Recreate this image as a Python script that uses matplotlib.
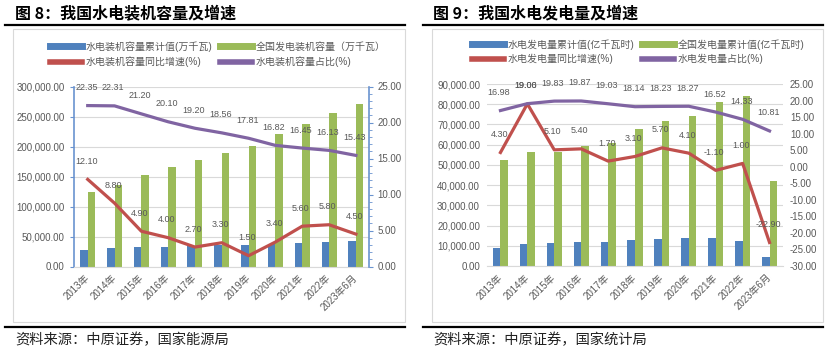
import numpy as np
import matplotlib
matplotlib.use('Agg')
import matplotlib.pyplot as plt
from matplotlib.lines import Line2D
from matplotlib.patches import Rectangle
from matplotlib.ticker import MultipleLocator, FuncFormatter

plt.rcParams['font.family'] = ['Liberation Sans', 'Noto Sans CJK SC']
plt.rcParams['axes.unicode_minus'] = False

# ---- data ----
years = ['2013年', '2014年', '2015年', '2016年', '2017年', '2018年',
         '2019年', '2020年', '2021年', '2022年', '2023年6月']

# 图8 装机容量
hydro_cap = [28044, 30486, 31954, 33207, 34411, 35226, 35640, 37016, 39092, 41350, 41797]
total_cap = [124738, 136019, 152527, 165051, 177708, 189967, 201006, 220058, 237692, 256405, 271000]
hydro_cap_yoy = [12.10, 8.80, 4.90, 4.00, 2.70, 3.30, 1.50, 3.40, 5.60, 5.80, 4.50]
hydro_cap_share = [22.35, 22.31, 21.20, 20.10, 19.20, 18.56, 17.81, 16.82, 16.45, 16.13, 15.43]

# 图9 发电量
hydro_gen = [8800, 10700, 11400, 12100, 12100, 12800, 13500, 13800, 13800, 12400, 4500]
total_gen = [52500, 56500, 56300, 59300, 60900, 67800, 71600, 74400, 81000, 84000, 42000]
hydro_gen_yoy = [4.30, 19.00, 5.10, 5.40, 1.70, 3.10, 5.70, 4.10, -1.10, 1.00, -22.90]
hydro_gen_share = [16.98, 19.06, 19.83, 19.87, 19.03, 18.14, 18.23, 18.27, 16.52, 14.33, 10.81]

BLUE = '#4F81BD'
GREEN = '#9BBB59'
RED = '#C0504D'
PURPLE = '#8064A2'
GRAY = '#595959'
GRID = '#D9D9D9'
AXBLUE = '#6A93CF'

W, H = 832, 353
fig = plt.figure(figsize=(W / 100, H / 100), dpi=100)


def fx(x):
    return x / W


def fy(y):
    return 1 - y / H


def frame(x0, x1, title, source, box_x0):
    fig.text(fx(x0 + 10), fy(13), title, fontsize=11.5, fontweight='bold',
             family=['Noto Sans CJK SC'], va='center', ha='left', color='black')
    fig.add_artist(Line2D([fx(x0), fx(x1)], [fy(25), fy(25)], color='black',
                          lw=1.6, transform=fig.transFigure))
    fig.add_artist(Rectangle((fx(box_x0), fy(322)), fx(x1) - fx(box_x0), fy(29) - fy(322),
                             transform=fig.transFigure, fill=False, ec=GRID, lw=0.8))
    fig.add_artist(Line2D([fx(x0), fx(x1)], [fy(327), fy(327)], color='black',
                          lw=1.6, transform=fig.transFigure))
    fig.text(fx(x0 + 10), fy(340), source, fontsize=10.3, family=['Noto Sans CJK SC'],
             va='center', ha='left', color='#222222')


def legend(labels, x, y):
    handles = [Line2D([], [], color=BLUE, lw=5), Line2D([], [], color=RED, lw=4),
               Line2D([], [], color=GREEN, lw=5), Line2D([], [], color=PURPLE, lw=4)]
    order = [labels[0], labels[2], labels[1], labels[3]]
    fig.legend(handles, order, ncol=2, loc='upper left', bbox_to_anchor=(fx(x), fy(y)),
               frameon=False, fontsize=7.2, handlelength=3.2, handletextpad=0.35,
               columnspacing=0.8, labelspacing=0.45, borderpad=0, borderaxespad=0,
               labelcolor=GRAY)


def labels(ax, x, vals):
    for xi, v in zip(x, vals):
        ax.annotate('%.2f' % v, (xi, v), xytext=(-1, 13), textcoords='offset points',
                    ha='center', va='center', fontsize=6.5, color=GRAY)


def draw(ax, blue, green, yoy, share, lmax, lstep, rmin, rmax, spines):
    x = np.arange(len(years))
    w = 0.28
    ax.set_axisbelow(True)
    ax.yaxis.grid(True, color=GRID, lw=0.8)
    ax.bar(x - w / 2, blue, w, color=BLUE)
    ax.bar(x + w / 2, green, w, color=GREEN)
    ax.set_xlim(-0.5, len(years) - 0.5)
    ax.set_ylim(0, lmax)
    ax.yaxis.set_major_locator(MultipleLocator(lstep))
    ax.yaxis.set_major_formatter(FuncFormatter(lambda v, p: '{:,.2f}'.format(v)))
    ax.set_xticks(x)
    ax.set_xticklabels(years, rotation=45, ha='right', va='center',
                       rotation_mode='anchor', fontsize=7, color=GRAY)
    ax.tick_params(axis='x', length=0, pad=7)
    ax.tick_params(axis='y', labelsize=7, labelcolor=GRAY)

    axr = ax.twinx()
    axr.plot(x, yoy, color=RED, lw=2.3, solid_joinstyle='round')
    axr.plot(x, share, color=PURPLE, lw=2.3, solid_joinstyle='round')
    labels(axr, x, yoy)
    labels(axr, x, share)
    axr.set_ylim(rmin, rmax)
    axr.yaxis.set_major_locator(MultipleLocator(5))
    axr.yaxis.set_major_formatter(FuncFormatter(lambda v, p: '%.2f' % v))
    axr.tick_params(axis='y', labelsize=7, labelcolor=GRAY)

    for a in (ax, axr):
        a.spines['top'].set_visible(False)
    ax.spines['right'].set_visible(False)
    axr.spines['left'].set_visible(False)
    axr.spines['bottom'].set_visible(False)
    ax.spines['bottom'].set_color(GRID)

    if spines:
        ax.spines['left'].set_color(AXBLUE)
        ax.spines['left'].set_linewidth(1.2)
        axr.spines['right'].set_color(AXBLUE)
        axr.spines['right'].set_linewidth(1.2)
        ax.tick_params(axis='y', length=3, color=AXBLUE, pad=4)
        axr.yaxis.set_minor_locator(MultipleLocator(1))
        axr.tick_params(axis='y', which='major', length=3, color=AXBLUE, pad=3)
        axr.tick_params(axis='y', which='minor', length=2, color=AXBLUE)
    else:
        ax.spines['left'].set_visible(False)
        axr.spines['right'].set_visible(False)
        ax.tick_params(axis='y', length=0, pad=5)
        axr.tick_params(axis='y', length=0, pad=5)
    return axr


# ---- 图8 ----
frame(5, 405, '图 8：我国水电装机容量及增速', '资料来源：中原证券，国家能源局', 13)
ax1 = fig.add_axes([fx(74.3), fy(266.5), fx(369.3) - fx(74.3), fy(86.5) - fy(266.5)])
draw(ax1, hydro_cap, total_cap, hydro_cap_yoy, hydro_cap_share, 300000, 50000, 0, 25, True)
legend(['水电装机容量累计值(万千瓦)', '全国发电装机容量（万千瓦）',
        '水电装机容量同比增速(%)', '水电装机容量占比(%)'], 50, 41)

# ---- 图9 ----
frame(423, 823, '图 9：我国水电发电量及增速', '资料来源：中原证券，国家统计局', 432)
ax2 = fig.add_axes([fx(487), fy(266), fx(783) - fx(487), fy(84) - fy(266)])
draw(ax2, hydro_gen, total_gen, hydro_gen_yoy, hydro_gen_share, 90000, 10000, -30, 25, False)
legend(['水电发电量累计值(亿千瓦时)', '全国发电量累计值(亿千瓦时)',
        '水电发电量同比增速(%)', '水电发电量占比(%)'], 472, 39)

fig.savefig('out.png', dpi=100)
